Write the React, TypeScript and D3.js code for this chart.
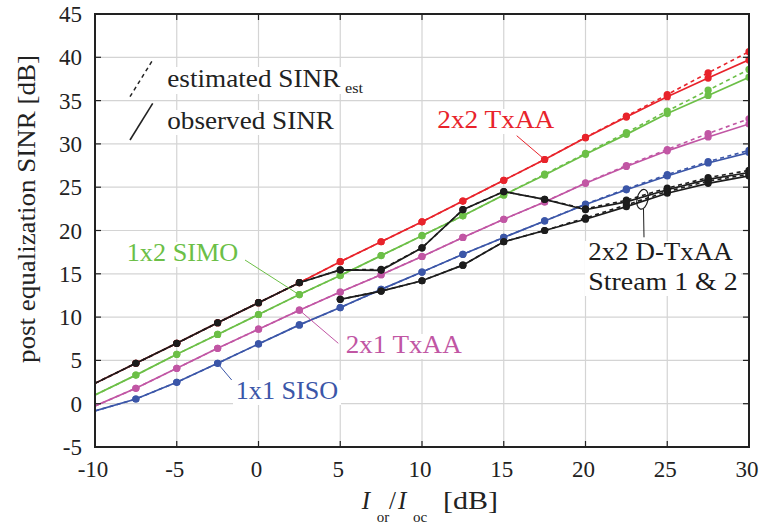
import React from "react";
import * as d3 from "d3";

const xValues = [-10, -7.5, -5, -2.5, 0, 2.5, 5, 7.5, 10, 12.5, 15, 17.5, 20, 22.5, 25, 27.5, 30];
const xTicks = [-10, -5, 0, 5, 10, 15, 20, 25, 30];
const yTicks = [-5, 0, 5, 10, 15, 20, 25, 30, 35, 40, 45];

const txaa22Obs = [2.35, 4.67, 6.97, 9.35, 11.66, 13.97, 16.4, 18.7, 21.0, 23.4, 25.8, 28.2, 30.7, 33.1, 35.45, 37.6, 39.7];
const txaa22Est = [2.35, 4.67, 6.97, 9.35, 11.66, 13.97, 16.4, 18.7, 21.0, 23.4, 25.8, 28.2, 30.75, 33.2, 35.7, 38.2, 40.65];
const simo12Obs = [1.0, 3.3, 5.7, 8.0, 10.3, 12.6, 14.8, 17.1, 19.4, 21.7, 24.1, 26.4, 28.8, 31.1, 33.5, 35.6, 37.7];
const simo12Est = [1.0, 3.3, 5.7, 8.0, 10.3, 12.6, 14.8, 17.1, 19.4, 21.7, 24.1, 26.5, 28.9, 31.3, 33.8, 36.2, 38.6];
const txaa21Obs = [-0.27, 1.78, 4.09, 6.4, 8.6, 10.8, 12.9, 14.9, 17.0, 19.2, 21.3, 23.3, 25.45, 27.4, 29.2, 30.8, 32.3];
const txaa21Est = [-0.27, 1.78, 4.09, 6.4, 8.6, 10.8, 12.9, 14.9, 17.0, 19.2, 21.3, 23.3, 25.5, 27.5, 29.35, 31.2, 32.9];
const siso11Obs = [-0.84, 0.54, 2.47, 4.66, 6.9, 9.1, 11.1, 13.2, 15.2, 17.25, 19.2, 21.1, 23.0, 24.7, 26.3, 27.8, 29.0];
const siso11Est = [-0.84, 0.54, 2.47, 4.66, 6.9, 9.1, 11.1, 13.2, 15.2, 17.25, 19.2, 21.1, 23.05, 24.8, 26.45, 27.95, 29.25];
const dtxaaS1Obs = [2.35, 4.67, 6.97, 9.35, 11.66, 13.97, 15.45, 15.4, 18.0, 22.4, 24.5, 23.6, 22.4, 23.3, 24.7, 25.9, 26.7];
const dtxaaS1Est = [2.35, 4.67, 6.97, 9.35, 11.66, 13.97, 15.45, 15.5, 18.0, 22.4, 24.5, 23.6, 22.5, 23.5, 24.9, 26.1, 26.95];
const dtxaaS2Obs = [null, null, null, null, null, null, 12.05, 13.0, 14.2, 16.0, 18.7, 20.0, 21.3, 22.75, 24.3, 25.45, 26.3];
const dtxaaS2Est = [null, null, null, null, null, null, 12.05, 13.0, 14.2, 16.0, 18.7, 20.0, 21.45, 22.95, 24.5, 25.7, 26.5];

const RED = "#e8232b";
const GREEN = "#6cbf47";
const MAGENTA = "#c156a4";
const BLUE = "#3b56a8";
const BLACK = "#1c1c1c";

const series = [
  { obs: siso11Obs, est: siso11Est, color: BLUE },
  { obs: txaa21Obs, est: txaa21Est, color: MAGENTA },
  { obs: simo12Obs, est: simo12Est, color: GREEN },
  { obs: txaa22Obs, est: txaa22Est, color: RED },
  { obs: dtxaaS2Obs, est: dtxaaS2Est, color: BLACK },
  { obs: dtxaaS1Obs, est: dtxaaS1Est, color: BLACK },
];

const FONT = "Liberation Serif";

export default function App() {
  const left = 95, right = 749, top = 14, bottom = 447;
  const x = d3.scaleLinear().domain([-10, 30]).range([left, right]);
  const y = d3.scaleLinear().domain([-5, 45]).range([bottom, top]);
  type P = [number, number | null];
  const line = d3
    .line<P>()
    .defined((d) => d[1] != null)
    .x((d) => x(d[0]))
    .y((d) => y(d[1] as number));
  const pts = (vals: (number | null)[]): P[] => xValues.map((xv, i) => [xv, vals[i]] as P);

  return (
    <svg
      width={762}
      height={528}
      style={{ position: "absolute", left: 0, top: 0, background: "#fff", fontFamily: FONT }}
    >
      <defs>
        <clipPath id="plot">
          <rect x={left} y={top} width={right - left} height={bottom - top} />
        </clipPath>
      </defs>
      <rect x={0} y={0} width={762} height={528} fill="#fff" />
      {/* grid */}
      {xTicks.map((t) => (
        <line key={"gx" + t} x1={x(t)} x2={x(t)} y1={top} y2={bottom} stroke="#d4d4d4" strokeWidth={1.2} />
      ))}
      {yTicks.map((t) => (
        <line key={"gy" + t} x1={left} x2={right} y1={y(t)} y2={y(t)} stroke="#d4d4d4" strokeWidth={1.2} />
      ))}

      {/* label backgrounds */}
      <rect x={435} y={109} width={122} height={25} fill="#fff" />
      <rect x={124} y={242} width={117} height={25} fill="#fff" />
      <rect x={343} y={334} width={121} height={25} fill="#fff" />
      <rect x={233} y={380} width={108} height={25} fill="#fff" />
      <rect x={585} y={241} width={156} height={55} fill="#fff" />
      <rect x={165} y={67} width={200} height={27} fill="#fff" />
      <rect x={165} y={110} width={172} height={25} fill="#fff" />

      {/* data */}
      <g clipPath="url(#plot)">
        {series.map((s, i) => (
          <g key={"s" + i}>
            <path d={line(pts(s.est)) || ""} fill="none" stroke={s.color} strokeWidth={1.6} strokeDasharray="4,3.5" />
            <path d={line(pts(s.obs)) || ""} fill="none" stroke={s.color} strokeWidth={1.7} />
            {pts(s.est)
              .filter((d) => d[1] != null && d[0] > -10)
              .map((d, j) => (
                <circle key={"e" + j} cx={x(d[0])} cy={y(d[1] as number)} r={3.6} fill={s.color} />
              ))}
            {pts(s.obs)
              .filter((d) => d[1] != null && d[0] > -10)
              .map((d, j) => (
                <circle key={"o" + j} cx={x(d[0])} cy={y(d[1] as number)} r={3.6} fill={s.color} />
              ))}
          </g>
        ))}
      </g>

      {/* frame and ticks */}
      <rect x={left} y={top} width={right - left} height={bottom - top} fill="none" stroke="#222" strokeWidth={2} />
      {xTicks.map((t) => (
        <g key={"tx" + t}>
          <line x1={x(t)} x2={x(t)} y1={bottom} y2={bottom - 6} stroke="#222" strokeWidth={1.2} />
          <line x1={x(t)} x2={x(t)} y1={top} y2={top + 6} stroke="#222" strokeWidth={1.2} />
          <text x={x(t) - 2} y={477} textAnchor="middle" fontSize={23} fill="#222">
            {t}
          </text>
        </g>
      ))}
      {yTicks.map((t) => (
        <g key={"ty" + t}>
          <line x1={left} x2={left + 6} y1={y(t)} y2={y(t)} stroke="#222" strokeWidth={1.2} />
          <line x1={right} x2={right - 6} y1={y(t)} y2={y(t)} stroke="#222" strokeWidth={1.2} />
          <text x={82} y={y(t)} dy="0.35em" textAnchor="end" fontSize={23} fill="#222">
            {t}
          </text>
        </g>
      ))}

      {/* axis labels */}
      <text
        transform="translate(35,209) rotate(-90)"
        textAnchor="middle"
        fontSize={25}
        fill="#222"
        textLength={308}
        lengthAdjust="spacingAndGlyphs"
      >
        post equalization SINR [dB]
      </text>
      <g fill="#222">
        <text x={361.7} y={509} fontSize={25} fontStyle="italic">I</text>
        <text x={376.7} y={521.5} fontSize={15}>or</text>
        <text x={389} y={509} fontSize={25}>/</text>
        <text x={398} y={509} fontSize={25} fontStyle="italic">I</text>
        <text x={413} y={521.5} fontSize={15}>oc</text>
        <text x={443} y={509} fontSize={25} textLength={55} lengthAdjust="spacingAndGlyphs">[dB]</text>
      </g>

      {/* legend */}
      <line x1={130} y1={96.7} x2={152.7} y2={60} stroke="#222" strokeWidth={1.5} strokeDasharray="4,3.5" />
      <line x1={130} y1={140} x2={152.7} y2={103.3} stroke="#222" strokeWidth={1.6} />
      <text x={167.3} y={87.3} fontSize={25} fill="#222" textLength={173} lengthAdjust="spacingAndGlyphs">
        estimated SINR
      </text>
      <text x={345} y={93.3} fontSize={15} fill="#222" textLength={18} lengthAdjust="spacingAndGlyphs">
        est
      </text>
      <text x={167.3} y={129} fontSize={25} fill="#222" textLength={166.7} lengthAdjust="spacingAndGlyphs">
        observed SINR
      </text>

      {/* annotations */}
      <line x1={516.7} y1={135.7} x2={x(17.5)} y2={y(28.2)} stroke={RED} strokeWidth={1} />
      <text x={437.3} y={128.3} fontSize={26} fill={RED} textLength={117} lengthAdjust="spacingAndGlyphs">
        2x2 TxAA
      </text>

      <line x1={245} y1={260} x2={x(2.5) - 2} y2={y(12.6) - 1} stroke={GREEN} strokeWidth={1} />
      <text x={126.7} y={261} fontSize={26} fill={GREEN} textLength={111.6} lengthAdjust="spacingAndGlyphs">
        1x2 SIMO
      </text>

      <line x1={x(2.5)} y1={y(10.8)} x2={338.3} y2={343.3} stroke={MAGENTA} strokeWidth={1} />
      <text x={345.7} y={353.3} fontSize={26} fill={MAGENTA} textLength={116} lengthAdjust="spacingAndGlyphs">
        2x1 TxAA
      </text>

      <line x1={x(-2.5)} y1={y(4.66)} x2={231.7} y2={380} stroke={BLUE} strokeWidth={1} />
      <text x={235.7} y={399} fontSize={26} fill={BLUE} textLength={102.6} lengthAdjust="spacingAndGlyphs">
        1x1 SISO
      </text>

      <ellipse cx={642.5} cy={199.3} rx={5.5} ry={10} fill="none" stroke={BLACK} strokeWidth={1.2} transform="rotate(12,642.5,199.3)" />
      <line x1={643.5} y1={209} x2={644} y2={237.3} stroke={BLACK} strokeWidth={1} />
      <text x={588.3} y={260} fontSize={26} fill={BLACK} textLength={144.4} lengthAdjust="spacingAndGlyphs">
        2x2 D-TxAA
      </text>
      <text x={588.3} y={290} fontSize={26} fill={BLACK} textLength={149.4} lengthAdjust="spacingAndGlyphs">
        Stream 1 &amp; 2
      </text>
    </svg>
  );
}
